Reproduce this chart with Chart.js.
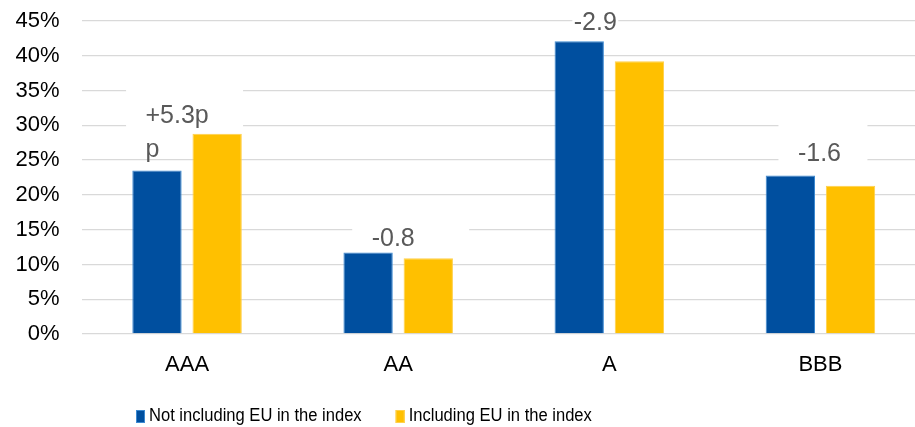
<!DOCTYPE html>
<html>
<head>
<meta charset="utf-8">
<script src="https://cdn.jsdelivr.net/npm/chart.js@4"></script>
<style>
  html, body { margin: 0; padding: 0; background: #fff; overflow: hidden; }
  #wrap { position: relative; width: 926px; height: 427px; }
</style>
</head>
<body>
<div id="wrap"><canvas id="ratingChart"></canvas></div>
<script>
// ratings buckets and shares (%)
const ratings = ['AAA', 'AA', 'A', 'BBB'];
const withoutEU = [23.5, 11.7, 42.1, 22.8];
const withEU = [28.8, 10.9, 39.2, 21.3];
const seriesNames = ['Not including EU in the index', 'Including EU in the index'];
const diffLabels = [['+5.3p', 'p'], ['-0.8'], ['-2.9'], ['-1.6']];
const yTicks = [0, 5, 10, 15, 20, 25, 30, 35, 40, 45];

const FONT = '"Liberation Sans", Arial, sans-serif';

// where each difference label sits, relative to the group centre / taller bar top
const labelBoxes = [
  { dx: -10, dy: -11, box: [-61, -48, 117, 45] },
  { dx: -5, dy: -7, box: [-46, -34, 117, 32] },
  { dx: -14, dy: -11, box: [-37, -33, 46, 26] },
  { dx: -1, dy: -14, box: [-42, -54, 89, 43] }
];

// white boxes with the pp difference above each pair of bars
const diffPlugin = {
  id: 'diffLabels',
  afterDatasetsDraw(chart) {
    const ctx = chart.ctx;
    const m0 = chart.getDatasetMeta(0).data;
    const m1 = chart.getDatasetMeta(1).data;
    ctx.save();
    ctx.font = '25px ' + FONT;
    ctx.textBaseline = 'alphabetic';
    ctx.textAlign = 'left';
    diffLabels.forEach((lines, i) => {
      const cx = (m0[i].x + m1[i].x) / 2;
      const top = Math.min(m0[i].y, m1[i].y);
      const l = labelBoxes[i];
      ctx.fillStyle = '#fff';
      ctx.fillRect(cx + l.box[0], top + l.box[1], l.box[2], l.box[3]);
      ctx.fillStyle = '#595959';
      const left = cx + l.dx - ctx.measureText(lines[0]).width / 2;
      lines.forEach((t, k) => ctx.fillText(t, left, top + l.dy + k * 34));
    });
    ctx.restore();
  }
};

// legend drawn by hand under the axis, text slightly condensed
const legendPlugin = {
  id: 'bottomLegend',
  afterDraw(chart) {
    const ctx = chart.ctx;
    const squeeze = 0.92;
    ctx.save();
    ctx.font = '18px ' + FONT;
    ctx.textBaseline = 'alphabetic';
    let x = 136;
    chart.data.datasets.forEach(ds => {
      ctx.fillStyle = ds.backgroundColor;
      ctx.fillRect(x, 410, 9, 13);
      ctx.strokeStyle = ds.borderColor;
      ctx.lineWidth = 1;
      ctx.strokeRect(x + 0.5, 410.5, 8, 12);
      x += 13;
      ctx.save();
      ctx.translate(x, 421);
      ctx.scale(squeeze, 1);
      ctx.fillStyle = '#000';
      ctx.fillText(ds.label, 0, 0);
      ctx.restore();
      x += ctx.measureText(ds.label).width * squeeze + 34;
    });
    ctx.restore();
  }
};

new Chart(document.getElementById('ratingChart'), {
  type: 'bar',
  data: {
    labels: ratings,
    datasets: [
      {
        label: seriesNames[0],
        data: withoutEU,
        backgroundColor: '#004F9F',
        borderColor: '#3C8AD2',
        borderWidth: 1
      },
      {
        label: seriesNames[1],
        data: withEU,
        backgroundColor: '#FFC000',
        borderColor: '#FFD04A',
        borderWidth: 1
      }
    ]
  },
  options: {
    responsive: true,
    maintainAspectRatio: false,
    animation: false,
    layout: { padding: { top: 21, left: 0, right: 0, bottom: 0 } },
    datasets: { bar: { categoryPercentage: 0.57, barPercentage: 0.82 } },
    plugins: {
      legend: { display: false },
      tooltip: { enabled: false }
    },
    scales: {
      x: {
        grid: { display: false },
        border: { display: false },
        ticks: { color: '#000', font: { family: FONT, size: 22 }, padding: 10 },
        afterFit(scale) { scale.height = 93; }
      },
      y: {
        min: 0,
        max: 45,
        afterBuildTicks(scale) { scale.ticks = yTicks.map(v => ({ value: v })); },
        // invisible tick marks keep the labels clear of the plot
        grid: { color: '#d9d9d9', lineWidth: 1.3, drawTicks: true, tickLength: 22, tickColor: 'rgba(0,0,0,0)' },
        border: { display: false },
        ticks: {
          color: '#000',
          font: { family: FONT, size: 22 },
          padding: 0,
          callback: v => v + '%'
        },
        afterFit(scale) { scale.width = 81.5; }
      }
    }
  },
  plugins: [diffPlugin, legendPlugin]
});
</script>
</body>
</html>
